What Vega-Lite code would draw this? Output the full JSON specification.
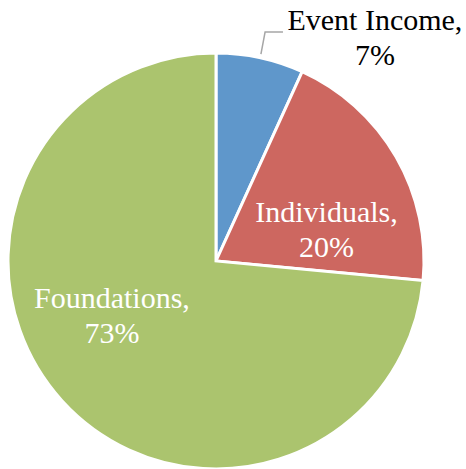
{
  "$schema": "https://vega.github.io/schema/vega-lite/v6.json",
  "width": 416,
  "height": 416,
  "padding": {"left": 8, "top": 53, "right": 42, "bottom": 0},
  "autosize": {"type": "none"},
  "background": "white",
  "config": {"view": {"stroke": null}},
  "datasets": {
    "slices": [
      {"idx": 1, "category": "Event Income", "value": 6.8, "label": "Event Income,\n7%"},
      {"idx": 2, "category": "Individuals", "value": 19.7, "label": "Individuals,\n20%"},
      {"idx": 3, "category": "Foundations", "value": 73.5, "label": "Foundations,\n73%"}
    ],
    "leader": [
      {"i": 0, "px": 0.216, "py": 0.995},
      {"i": 1, "px": 0.236, "py": 1.101},
      {"i": 2, "px": 0.322, "py": 1.101}
    ]
  },
  "layer": [
    {
      "data": {"name": "slices"},
      "mark": {"type": "arc", "outerRadius": 208, "stroke": "white", "strokeWidth": 3},
      "encoding": {
        "theta": {"field": "value", "type": "quantitative", "stack": true},
        "order": {"field": "idx", "type": "quantitative"},
        "color": {
          "field": "category", "type": "nominal",
          "scale": {"domain": ["Event Income", "Individuals", "Foundations"], "range": ["#5f97cb", "#cd6760", "#abc46e"]},
          "legend": null
        }
      }
    },
    {
      "data": {"name": "slices"},
      "mark": {"type": "text", "radius": 115, "dx": 11, "dy": 18.7, "align": "center", "baseline": "alphabetic", "lineBreak": "\n", "lineHeight": 35, "font": "Liberation Serif", "fontSize": 30, "color": "white"},
      "encoding": {
        "theta": {"field": "value", "type": "quantitative", "stack": true},
        "order": {"field": "idx", "type": "quantitative"},
        "text": {"condition": {"test": "datum.category === 'Individuals'", "field": "label", "type": "nominal"}, "value": ""}
      }
    },
    {
      "data": {"name": "slices"},
      "mark": {"type": "text", "radius": 115, "dx": -19, "dy": -30.4, "align": "center", "baseline": "alphabetic", "lineBreak": "\n", "lineHeight": 35, "font": "Liberation Serif", "fontSize": 30, "color": "white"},
      "encoding": {
        "theta": {"field": "value", "type": "quantitative", "stack": true},
        "order": {"field": "idx", "type": "quantitative"},
        "text": {"condition": {"test": "datum.category === 'Foundations'", "field": "label", "type": "nominal"}, "value": ""}
      }
    },
    {
      "data": {"name": "slices"},
      "mark": {"type": "text", "radius": 240, "dx": 108, "dy": 3.6, "align": "center", "baseline": "alphabetic", "lineBreak": "\n", "lineHeight": 35, "font": "Liberation Serif", "fontSize": 30, "color": "black"},
      "encoding": {
        "theta": {"field": "value", "type": "quantitative", "stack": true},
        "order": {"field": "idx", "type": "quantitative"},
        "text": {"condition": {"test": "datum.category === 'Event Income'", "field": "label", "type": "nominal"}, "value": ""}
      }
    },
    {
      "data": {"name": "leader"},
      "mark": {"type": "line", "color": "#a6a6a6", "strokeWidth": 1.5, "clip": false},
      "encoding": {
        "x": {"field": "px", "type": "quantitative", "scale": {"domain": [-1, 1], "nice": false, "zero": false}, "axis": null},
        "y": {"field": "py", "type": "quantitative", "scale": {"domain": [-1, 1], "nice": false, "zero": false}, "axis": null},
        "order": {"field": "i", "type": "quantitative"}
      }
    }
  ]
}
